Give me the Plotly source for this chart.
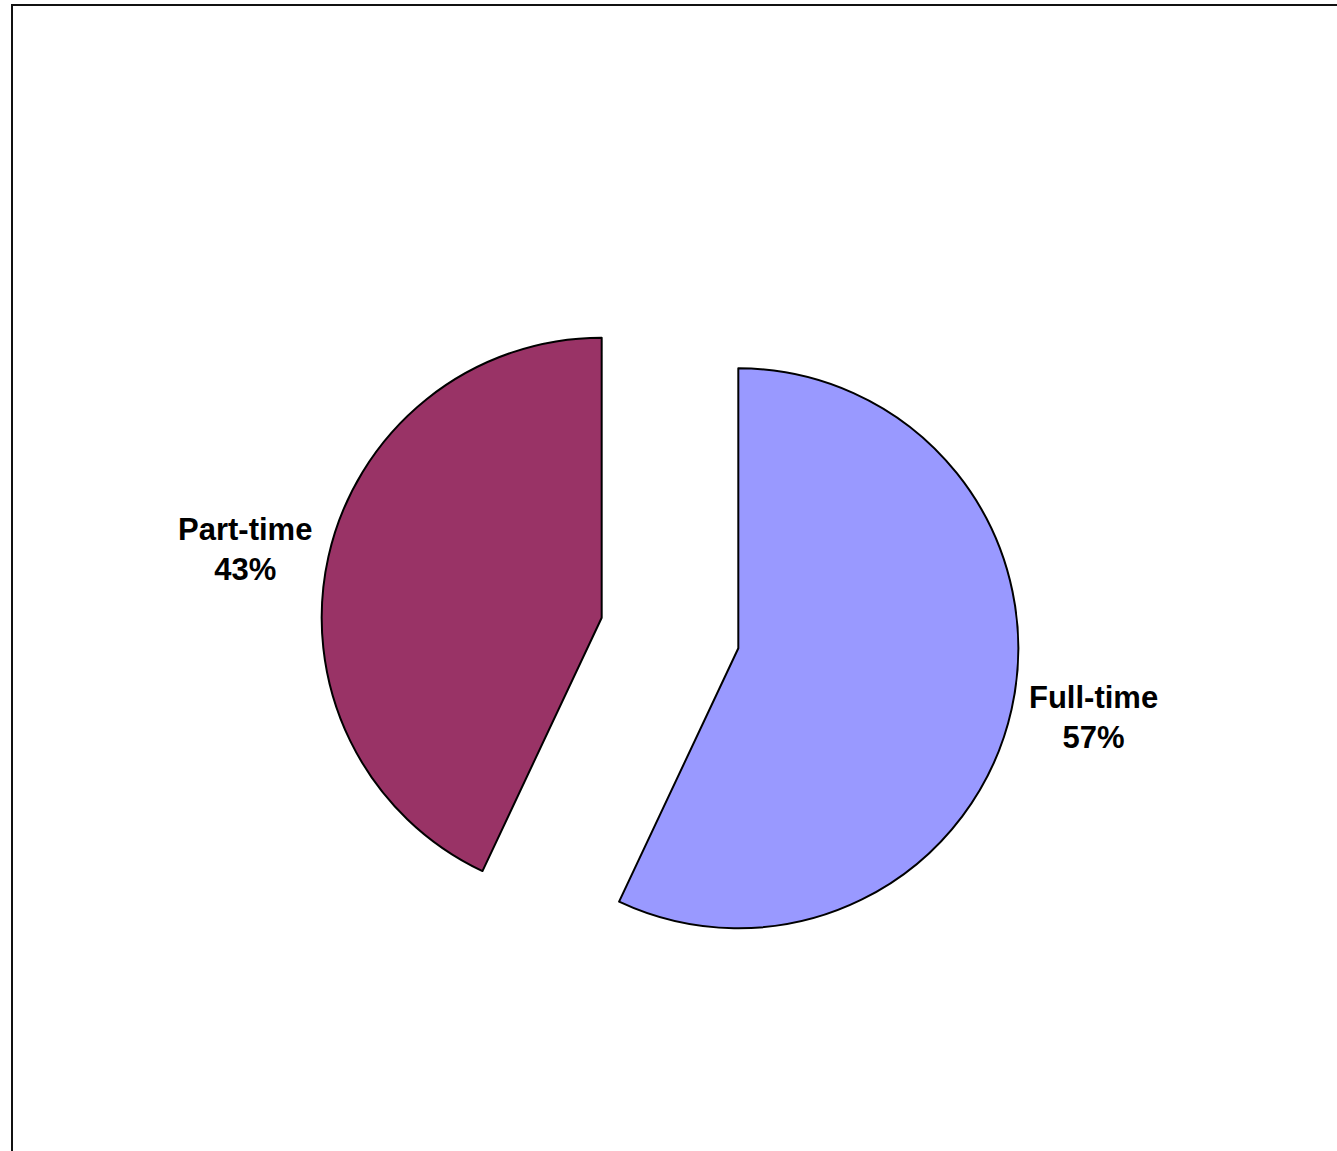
import plotly.graph_objects as go

# Data
categories = ["Full-time", "Part-time"]
values = [57, 43]
colors = ["#9999FF", "#993366"]
pulls = [0.25, 0.25]

W, H = 1337, 1151

total = sum(values)
pcts = [round(100 * v / total) for v in values]

fig = go.Figure()
fig.add_trace(go.Pie(
    labels=categories,
    values=values,
    sort=False,
    direction="clockwise",
    rotation=0,
    pull=pulls,
    marker=dict(colors=colors, line=dict(color="black", width=2)),
    textinfo="none",
    hoverinfo="label+percent",
    showlegend=False,
    domain=dict(x=[320 / W, 1020 / W], y=[1 - 983 / H, 1 - 283 / H]),
))

# Label positions (pixel centres), converted to paper coords
label_pos = {"Full-time": (1093, 717), "Part-time": (245, 549)}
for cat, p in zip(categories, pcts):
    px, py = label_pos[cat]
    fig.add_annotation(
        x=px / W, y=1 - py / H, xref="paper", yref="paper",
        text=f"<b>{cat}<br>{p}%</b>", showarrow=False,
        font=dict(family="Liberation Sans, Arial, sans-serif", size=31, color="black"),
        align="center", xanchor="center", yanchor="middle",
    )

# Chart frame (cut off at right/bottom as in the reference)
fig.add_shape(type="rect", xref="paper", yref="paper",
              x0=12 / W, x1=1.01, y0=-0.01, y1=1 - 5 / H,
              line=dict(color="#111111", width=2), fillcolor="rgba(0,0,0,0)")

fig.update_layout(
    width=W, height=H,
    margin=dict(l=0, r=0, t=0, b=0),
    paper_bgcolor="white", plot_bgcolor="white",
)

fig.write_html("out.html")
